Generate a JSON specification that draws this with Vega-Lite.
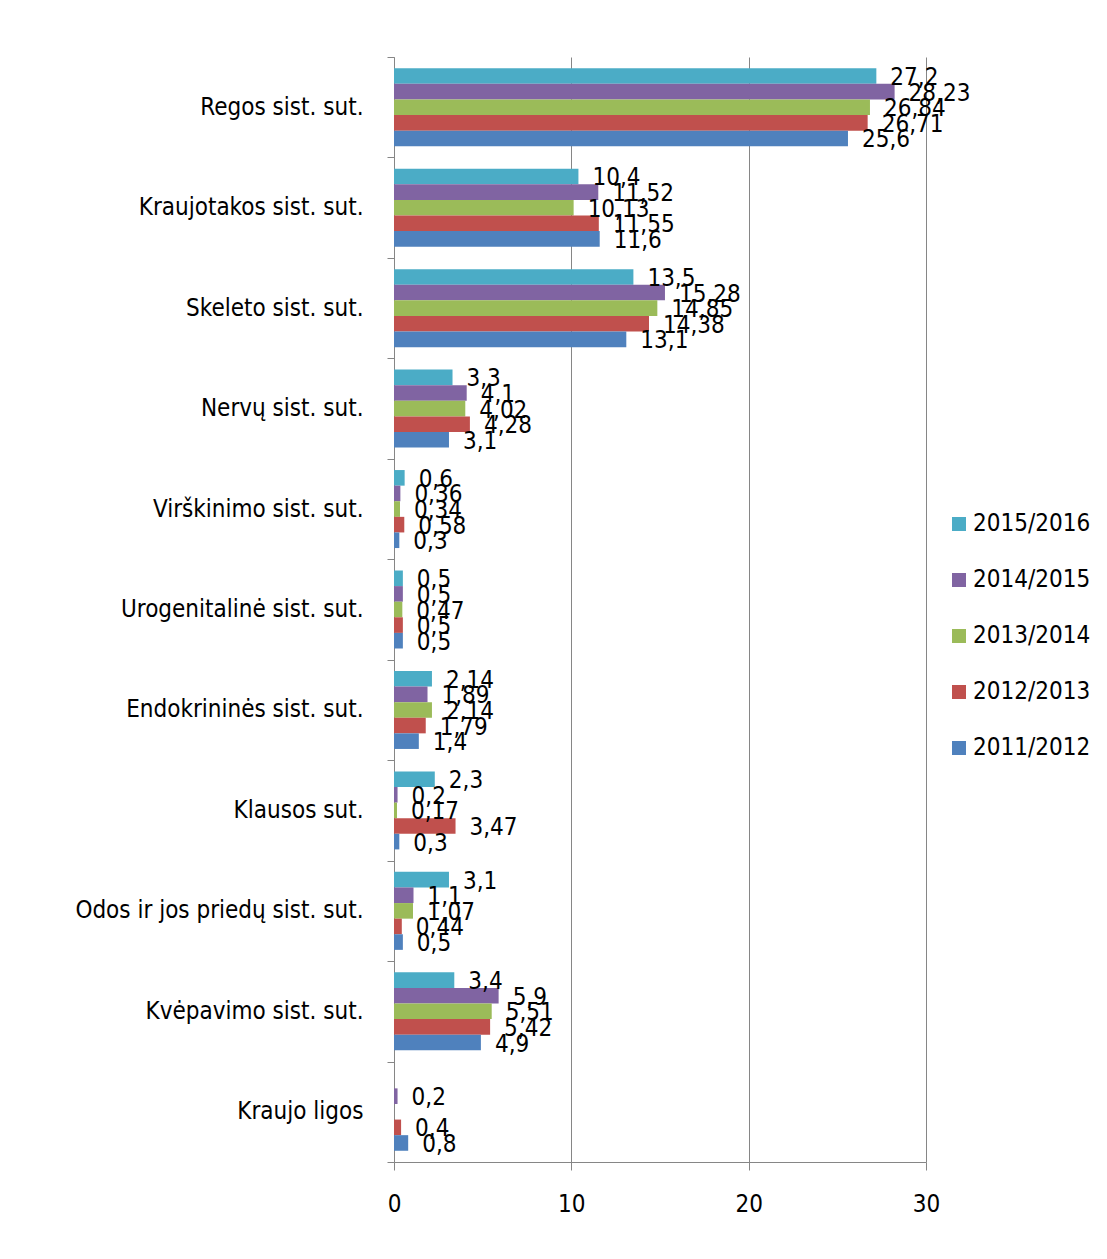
{
  "$schema": "https://vega.github.io/schema/vega-lite/v6.json",
  "width": 532,
  "height": 1105,
  "autosize": "none",
  "padding": {"left": 394, "top": 57, "right": 181, "bottom": 97},
  "background": "white",
  "config": {
    "view": {"stroke": null},
    "font": "DejaVu Sans Condensed, Roboto, sans-serif"
  },
  "data": {
    "values": [
      {"cat": "Regos sist. sut.", "year": "2015/2016", "value": 27.2, "label": "27,2"},
      {"cat": "Regos sist. sut.", "year": "2014/2015", "value": 28.23, "label": "28,23"},
      {"cat": "Regos sist. sut.", "year": "2013/2014", "value": 26.84, "label": "26,84"},
      {"cat": "Regos sist. sut.", "year": "2012/2013", "value": 26.71, "label": "26,71"},
      {"cat": "Regos sist. sut.", "year": "2011/2012", "value": 25.6, "label": "25,6"},
      {"cat": "Kraujotakos sist. sut.", "year": "2015/2016", "value": 10.4, "label": "10,4"},
      {"cat": "Kraujotakos sist. sut.", "year": "2014/2015", "value": 11.52, "label": "11,52"},
      {"cat": "Kraujotakos sist. sut.", "year": "2013/2014", "value": 10.13, "label": "10,13"},
      {"cat": "Kraujotakos sist. sut.", "year": "2012/2013", "value": 11.55, "label": "11,55"},
      {"cat": "Kraujotakos sist. sut.", "year": "2011/2012", "value": 11.6, "label": "11,6"},
      {"cat": "Skeleto sist. sut.", "year": "2015/2016", "value": 13.5, "label": "13,5"},
      {"cat": "Skeleto sist. sut.", "year": "2014/2015", "value": 15.28, "label": "15,28"},
      {"cat": "Skeleto sist. sut.", "year": "2013/2014", "value": 14.85, "label": "14,85"},
      {"cat": "Skeleto sist. sut.", "year": "2012/2013", "value": 14.38, "label": "14,38"},
      {"cat": "Skeleto sist. sut.", "year": "2011/2012", "value": 13.1, "label": "13,1"},
      {"cat": "Nervų sist. sut.", "year": "2015/2016", "value": 3.3, "label": "3,3"},
      {"cat": "Nervų sist. sut.", "year": "2014/2015", "value": 4.1, "label": "4,1"},
      {"cat": "Nervų sist. sut.", "year": "2013/2014", "value": 4.02, "label": "4,02"},
      {"cat": "Nervų sist. sut.", "year": "2012/2013", "value": 4.28, "label": "4,28"},
      {"cat": "Nervų sist. sut.", "year": "2011/2012", "value": 3.1, "label": "3,1"},
      {"cat": "Virškinimo sist. sut.", "year": "2015/2016", "value": 0.6, "label": "0,6"},
      {"cat": "Virškinimo sist. sut.", "year": "2014/2015", "value": 0.36, "label": "0,36"},
      {"cat": "Virškinimo sist. sut.", "year": "2013/2014", "value": 0.34, "label": "0,34"},
      {"cat": "Virškinimo sist. sut.", "year": "2012/2013", "value": 0.58, "label": "0,58"},
      {"cat": "Virškinimo sist. sut.", "year": "2011/2012", "value": 0.3, "label": "0,3"},
      {"cat": "Urogenitalinė sist. sut.", "year": "2015/2016", "value": 0.5, "label": "0,5"},
      {"cat": "Urogenitalinė sist. sut.", "year": "2014/2015", "value": 0.5, "label": "0,5"},
      {"cat": "Urogenitalinė sist. sut.", "year": "2013/2014", "value": 0.47, "label": "0,47"},
      {"cat": "Urogenitalinė sist. sut.", "year": "2012/2013", "value": 0.5, "label": "0,5"},
      {"cat": "Urogenitalinė sist. sut.", "year": "2011/2012", "value": 0.5, "label": "0,5"},
      {"cat": "Endokrininės sist. sut.", "year": "2015/2016", "value": 2.14, "label": "2,14"},
      {"cat": "Endokrininės sist. sut.", "year": "2014/2015", "value": 1.89, "label": "1,89"},
      {"cat": "Endokrininės sist. sut.", "year": "2013/2014", "value": 2.14, "label": "2,14"},
      {"cat": "Endokrininės sist. sut.", "year": "2012/2013", "value": 1.79, "label": "1,79"},
      {"cat": "Endokrininės sist. sut.", "year": "2011/2012", "value": 1.4, "label": "1,4"},
      {"cat": "Klausos sut.", "year": "2015/2016", "value": 2.3, "label": "2,3"},
      {"cat": "Klausos sut.", "year": "2014/2015", "value": 0.2, "label": "0,2"},
      {"cat": "Klausos sut.", "year": "2013/2014", "value": 0.17, "label": "0,17"},
      {"cat": "Klausos sut.", "year": "2012/2013", "value": 3.47, "label": "3,47"},
      {"cat": "Klausos sut.", "year": "2011/2012", "value": 0.3, "label": "0,3"},
      {"cat": "Odos ir jos priedų sist. sut.", "year": "2015/2016", "value": 3.1, "label": "3,1"},
      {"cat": "Odos ir jos priedų sist. sut.", "year": "2014/2015", "value": 1.1, "label": "1,1"},
      {"cat": "Odos ir jos priedų sist. sut.", "year": "2013/2014", "value": 1.07, "label": "1,07"},
      {"cat": "Odos ir jos priedų sist. sut.", "year": "2012/2013", "value": 0.44, "label": "0,44"},
      {"cat": "Odos ir jos priedų sist. sut.", "year": "2011/2012", "value": 0.5, "label": "0,5"},
      {"cat": "Kvėpavimo sist. sut.", "year": "2015/2016", "value": 3.4, "label": "3,4"},
      {"cat": "Kvėpavimo sist. sut.", "year": "2014/2015", "value": 5.9, "label": "5,9"},
      {"cat": "Kvėpavimo sist. sut.", "year": "2013/2014", "value": 5.51, "label": "5,51"},
      {"cat": "Kvėpavimo sist. sut.", "year": "2012/2013", "value": 5.42, "label": "5,42"},
      {"cat": "Kvėpavimo sist. sut.", "year": "2011/2012", "value": 4.9, "label": "4,9"},
      {"cat": "Kraujo ligos", "year": "2014/2015", "value": 0.2, "label": "0,2"},
      {"cat": "Kraujo ligos", "year": "2012/2013", "value": 0.4, "label": "0,4"},
      {"cat": "Kraujo ligos", "year": "2011/2012", "value": 0.8, "label": "0,8"}
    ]
  },
  "encoding": {
    "y": {
      "field": "cat",
      "type": "nominal",
      "sort": null,
      "scale": {"paddingInner": 0, "paddingOuter": 0},
      "axis": {
        "title": null,
        "tickBand": "extent",
        "tickSize": 7,
        "tickColor": "#868686",
        "domainColor": "#868686",
        "labelFontSize": 24,
        "labelFont": "DejaVu Sans Condensed, Roboto, sans-serif",
        "labelColor": "#000000",
        "labelPadding": 24,
        "labelLimit": 400
      }
    },
    "yOffset": {
      "field": "year",
      "type": "nominal",
      "sort": ["2015/2016", "2014/2015", "2013/2014", "2012/2013", "2011/2012"],
      "scale": {"paddingInner": 0, "paddingOuter": 0.72}
    },
    "x": {
      "field": "value",
      "type": "quantitative",
      "scale": {"domain": [0, 30], "nice": false},
      "axis": {
        "title": null,
        "values": [0, 10, 20, 30],
        "grid": true,
        "gridColor": "#868686",
        "tickColor": "#868686",
        "domainColor": "#868686",
        "tickSize": 8,
        "labelFlush": false,
        "labelFontSize": 24,
        "labelFont": "DejaVu Sans Condensed, Roboto, sans-serif",
        "labelColor": "#000000",
        "labelPadding": 22
      }
    }
  },
  "layer": [
    {
      "mark": {"type": "bar"},
      "encoding": {
        "color": {
          "field": "year",
          "type": "nominal",
          "scale": {
            "domain": ["2015/2016", "2014/2015", "2013/2014", "2012/2013", "2011/2012"],
            "range": ["#4BACC6", "#8064A2", "#9BBB59", "#C0504D", "#4F81BD"]
          },
          "legend": {
            "orient": "none",
            "legendX": 553,
            "legendY": 455,
            "title": null,
            "symbolType": "square",
            "symbolSize": 196,
            "symbolStrokeWidth": 0,
            "labelFontSize": 24,
            "labelFont": "DejaVu Sans Condensed, Roboto, sans-serif",
            "labelColor": "#000000",
            "rowPadding": 32,
            "labelOffset": 2
          }
        }
      }
    },
    {
      "mark": {"type": "text", "align": "left", "baseline": "middle", "dx": 14, "dy": 2, "fontSize": 24, "font": "DejaVu Sans Condensed, Roboto, sans-serif", "color": "#000000"},
      "encoding": {"text": {"field": "label"}}
    }
  ]
}
